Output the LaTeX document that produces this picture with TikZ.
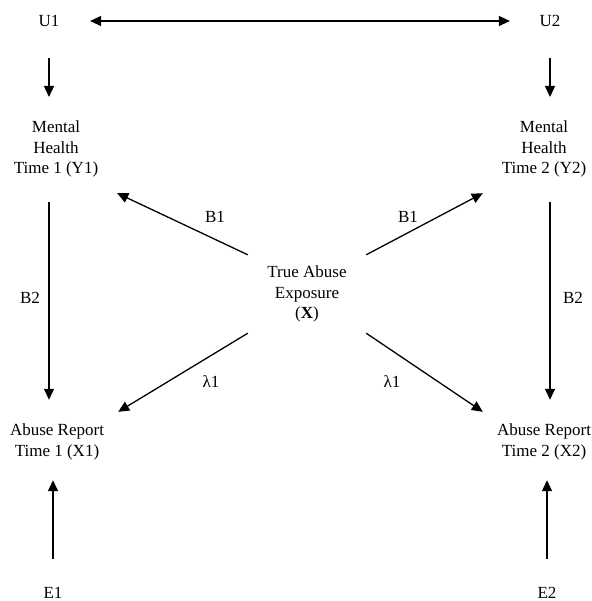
\documentclass[tikz,border=0pt]{standalone}
\usepackage{fontspec}
\setmainfont{Liberation Serif}
\usetikzlibrary{arrows.meta}
\begin{document}
\begin{tikzpicture}[x=1pt,y=-1pt,
  lbl/.style={font=\fontsize{17}{20.5}\selectfont, inner sep=0pt, align=center},
  col/.style={lbl, minimum width=122pt},
  tip/.tip={Triangle[length=11pt,width=10pt]},
  arr/.style={line width=1.3pt, -tip},
  darr/.style={line width=1.3pt, tip-tip},
]
\useasboundingbox (0,0) rectangle (591,601);
% nodes
\node[lbl] (U1) at (49,21) {U1};
\node[lbl] (U2) at (550,21) {U2};
\node[col, minimum height=88pt] (MH1) at (56,149) {Mental\\Health\\Time 1 (Y1)};
\node[col, minimum height=88pt] (MH2) at (544,149) {Mental\\Health\\Time 2 (Y2)};
\node[lbl, minimum width=118pt, minimum height=78pt] (X) at (307,294) {True Abuse\\Exposure\\(\textbf{X})};
\node[col, minimum height=60pt] (XR1) at (57,442) {Abuse Report\\Time 1 (X1)};
\node[col, minimum height=60pt] (XR2) at (544,442) {Abuse Report\\Time 2 (X2)};
\node[lbl] (E1) at (53,593) {E1};
\node[lbl] (E2) at (547,593) {E2};
% labels
\node[lbl] (lB1a) at (215,217) {B1};
\node[lbl] (lB1b) at (408,217) {B1};
\node[lbl] (lB2a) at (30,298) {B2};
\node[lbl] (lB2b) at (573,298) {B2};
\node[lbl] (lL1a) at (211,382) {λ1};
\node[lbl] (lL1b) at (392,382) {λ1};
% connectors
\draw[darr, shorten <=30.5pt, shorten >=29.5pt] (U1.east) -- (U2.west);
\draw[arr, shorten <=31pt, shorten >=52pt] (U1.south) -- (U1.south |- MH1.center);
\draw[arr, shorten <=31pt, shorten >=52pt] (U2.south) -- (U2.south |- MH2.center);
\draw[arr, shorten <=9pt, shorten >=12pt] (U1 |- MH1.south) -- (U1 |- XR1.north);
\draw[arr, shorten <=9pt, shorten >=12pt] (U2 |- MH2.south) -- (U2 |- XR2.north);
\draw[arr, shorten <=28pt, shorten >=8pt] (E1.north) -- (E1.north |- XR1.south);
\draw[arr, shorten <=28pt, shorten >=8pt] (E2.north) -- (E2.north |- XR2.south);
\draw[arr] (X.north west) -- (MH1.south east);
\draw[arr] (X.north east) -- (MH2.south west);
\draw[arr] (X.south west) -- (XR1.north east);
\draw[arr] (X.south east) -- (XR2.north west);
\end{tikzpicture}
\end{document}
